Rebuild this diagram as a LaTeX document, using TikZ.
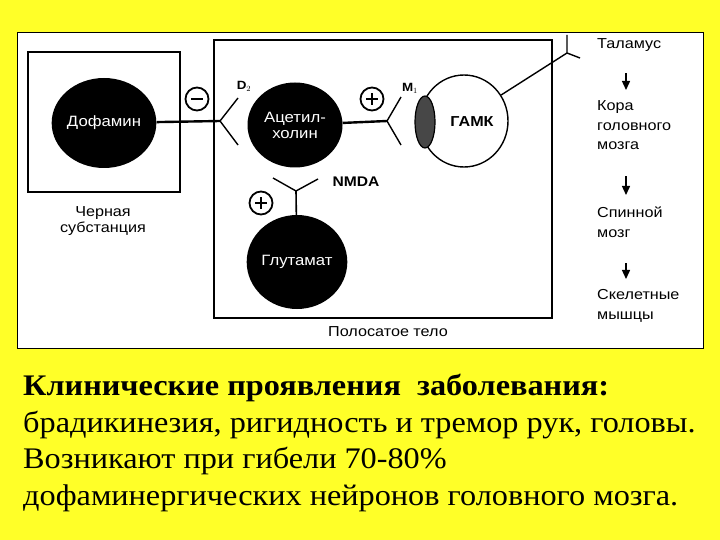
\documentclass[tikz,border=0pt]{standalone}
\usepackage{fontspec}
\setmainfont{Liberation Serif}[FakeStretch=1.08]
\setsansfont{Liberation Sans}[FakeStretch=1.12]
\usetikzlibrary{arrows.meta,shapes.geometric}
\definecolor{slideyellow}{RGB}{255,255,40}

\begin{document}
\begin{tikzpicture}[x=1bp,y=-1bp,>=Stealth,
    cell/.style={ellipse,fill=black,text=white,inner sep=0pt,align=center,
        font=\sffamily\fontsize{15}{16}\selectfont},
    lbl/.style={inner sep=0pt,align=center,font=\sffamily\fontsize{14.5}{16}\selectfont},
    col/.style={inner sep=0pt,align=left,anchor=north west,font=\sffamily\fontsize{14.5}{20}\selectfont},
    sgn/.style={circle,draw,line width=1.8bp,minimum size=23bp,inner sep=0pt},
    arm/.style={line width=1.4bp},
    dn/.style={-{Triangle[width=8bp,length=9bp]},line width=1.4bp},
    slide/.style={inner sep=0pt,anchor=base west,font=\fontsize{30}{36}\selectfont}]
    \useasboundingbox (0,0) rectangle (720,540);
    \fill[slideyellow] (0,0) rectangle (720,540);

    % white panel
    \draw[fill=white,line width=0.8bp] (17,32) rectangle (703,348);

    % Black substance
    \draw[line width=1.8bp] (28,52) rectangle (180,192);
    \node[cell,minimum width=92bp,minimum height=90bp] (dopa) at (104,123) {Дофамин};
    \node[lbl] (sn) at (103,221) {Черная\\субстанция};

    % Striatum
    \draw[line width=1.8bp] (214,40) rectangle (552,318);
    \node[lbl] (str) at (388,332) {Полосатое тело};
    \node[cell,minimum width=95bp,minimum height=85bp] (ach) at (295,125) {Ацетил-\\холин};
    \node[cell,minimum width=90bp,minimum height=94bp] (glu) at (297,262) {Глутамат};

    % GABA cell with M1 receptor
    \node[ellipse,draw,fill=white,line width=1.4bp,minimum width=88bp,minimum height=92bp] (gaba) at (464,121) {};
    \draw[fill=black!72,line width=1.2bp] (425,122) ellipse (10 and 26);
    \node[font=\sffamily\bfseries\fontsize{14.5}{16}\selectfont] (gabat) at (472,122) {ГАМК};

    % receptors
    \coordinate (d2) at (220,121);
    \coordinate (m1) at (387,121);
    \coordinate (nmda) at (296,191);
    \coordinate (thr) at (567,53);
    \draw[arm] (d2) -- ++(18,-23) (d2) -- ++(18,24);
    \draw[arm] (m1) -- ++(14,-24) (m1) -- ++(14,24);
    \draw[arm] (nmda) -- ++(-23,-13) (nmda) -- ++(22,-12);
    \draw[arm] (thr) -- ++(0,-18) (thr) -- ++(13,5);

    % connections
    \draw[line width=2.4bp] (dopa) -- (d2);
    \draw[line width=2.4bp] (ach) -- (m1);
    \draw[line width=1.6bp] (glu) -- (nmda);
    \draw[line width=1.4bp] (gaba.35) -- (thr);

    % receptor names
    \node[font=\sffamily\bfseries\fontsize{12}{12}\selectfont] (d2t) at (244,86) {D$_2$};
    \node[font=\sffamily\bfseries\fontsize{12}{12}\selectfont] (m1t) at (410,88) {M$_1$};
    \node[font=\sffamily\bfseries\fontsize{14}{14}\selectfont] (nmdat) at (356,182) {NMDA};

    % signs
    \node[sgn,path picture={\draw[line width=2.4bp] ([xshift=-6bp]path picture bounding box.center) -- ([xshift=6bp]path picture bounding box.center);}] (minus) at (197,99) {};
    \node[sgn,path picture={\draw[line width=2bp] ([xshift=-6bp]path picture bounding box.center) -- ([xshift=6bp]path picture bounding box.center) ([yshift=-6bp]path picture bounding box.center) -- ([yshift=6bp]path picture bounding box.center);}] (plusm) at (372,99) {};
    \node[sgn,path picture={\draw[line width=2bp] ([xshift=-6bp]path picture bounding box.center) -- ([xshift=6bp]path picture bounding box.center) ([yshift=-6bp]path picture bounding box.center) -- ([yshift=6bp]path picture bounding box.center);}] (plusg) at (261,203) {};

    % descending pathway
    \node[col] (thal) at (597,38) {Таламус};
    \node[col] (cort) at (597,100) {Кора\\головного\\мозга};
    \node[col] (spin) at (597,207) {Спинной\\мозг};
    \node[col] (musc) at (597,289) {Скелетные\\мышцы};
    \draw[dn,shorten <=22bp,shorten >=10bp] ([xshift=29bp]thal.south west) -- ([xshift=29bp]cort.north west);
    \draw[dn,shorten <=26bp,shorten >=12bp] ([xshift=29bp]cort.south west) -- ([xshift=29bp]spin.north west);
    \draw[dn,shorten <=25bp,shorten >=10bp] ([xshift=29bp]spin.south west) -- ([xshift=29bp]musc.north west);

    % clinical text
    \node[slide,font=\bfseries\fontsize{30}{36}\selectfont] (t1) at (23,395) {Клинические проявления\ \ заболевания:};
    \node[slide] (t2) at (23,432) {брадикинезия, ригидность и тремор рук, головы.};
    \node[slide] (t3) at (23,468) {Возникают при гибели 70-80\%};
    \node[slide] (t4) at (23,505) {дофаминергических нейронов головного мозга.};
\end{tikzpicture}
\end{document}
